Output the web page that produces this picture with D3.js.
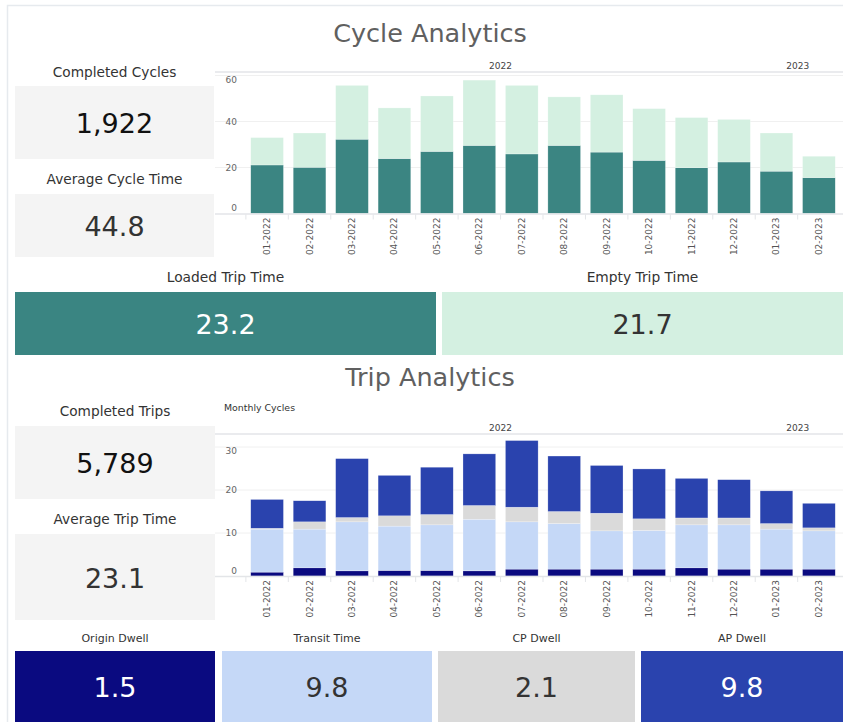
<!DOCTYPE html>
<html>
<head>
    <title>Cycle and Trip Analytics</title>
    <script src="https://d3js.org/d3.v7.min.js"></script>
    <style>
        body { margin: 0; background: #fff; }
        svg { display: block; font-family: "DejaVu Sans", Verdana, sans-serif; }
    </style>
</head>
<body>
    <div id="dash"></div>

    <script>
        // months shown on both charts
        const months = ["01-2022", "02-2022", "03-2022", "04-2022", "05-2022", "06-2022", "07-2022",
            "08-2022", "09-2022", "10-2022", "11-2022", "12-2022", "01-2023", "02-2023"];
        const years = [
            { year: "2022", first: "01-2022", last: "12-2022" },
            { year: "2023", first: "01-2023", last: "02-2023" }
        ];

        // cycle chart (stacked)
        const loadedTrip = [21.1, 20.1, 32.3, 23.9, 27.0, 29.6, 25.9, 29.6, 26.7, 23.1, 19.9, 22.4, 18.4, 15.6];
        const emptyTrip = [11.9, 14.9, 23.4, 22.0, 24.1, 28.4, 29.8, 21.1, 24.9, 22.5, 21.8, 18.5, 16.6, 9.3];
        const cycleTicks = [0, 20, 40, 60];

        // trip chart (stacked)
        const originDwell = [0.9, 1.9, 1.2, 1.3, 1.3, 1.2, 1.6, 1.6, 1.6, 1.6, 1.9, 1.6, 1.6, 1.6];
        const transitTime = [10.0, 9.0, 11.4, 10.3, 10.6, 12.0, 11.0, 10.6, 8.9, 9.0, 10.0, 10.3, 9.3, 8.9];
        const cpDwell = [0.2, 1.7, 1.0, 2.4, 2.4, 3.2, 3.4, 2.8, 4.1, 2.7, 1.6, 1.6, 1.3, 0.7];
        const apDwell = [6.7, 4.9, 13.7, 9.4, 11.0, 12.0, 15.5, 12.9, 11.1, 11.6, 9.2, 8.9, 7.6, 5.7];
        const tripTicks = [0, 10, 20, 30];

        // KPI cards
        const cycleKpis = [["Completed Cycles", "1,922"], ["Average Cycle Time", "44.8"]];
        const splitKpis = [["Loaded Trip Time", "23.2"], ["Empty Trip Time", "21.7"]];
        const tripKpis = [["Completed Trips", "5,789"], ["Average Trip Time", "23.1"]];
        const dwellKpis = [["Origin Dwell", "1.5"], ["Transit Time", "9.8"], ["CP Dwell", "2.1"], ["AP Dwell", "9.8"]];

        const W = 843, H = 722;
        const svg = d3.select("#dash").append("svg").attr("width", W).attr("height", H);

        // card outline
        svg.append("path").attr("d", "M7.5,722V5.5H843").attr("fill", "none")
            .attr("stroke", "#e6eaee").attr("stroke-width", 1.5);

        function title(text, y) {
            svg.append("text").attr("x", 430).attr("y", y).attr("text-anchor", "middle")
                .attr("dominant-baseline", "central").attr("font-size", 25.5).attr("fill", "#606060")
                .text(text);
        }

        function card(box, label, value, fill, color, labelSize) {
            svg.append("text").attr("x", box.x + box.w / 2).attr("y", box.ly)
                .attr("text-anchor", "middle").attr("dominant-baseline", "central")
                .attr("font-size", labelSize).attr("fill", "#333").text(label);
            svg.append("rect").attr("x", box.x).attr("y", box.y).attr("width", box.w).attr("height", box.h)
                .attr("fill", fill);
            svg.append("text").attr("x", box.x + box.w / 2).attr("y", box.vy)
                .attr("text-anchor", "middle").attr("dominant-baseline", "central")
                .attr("font-size", 27).attr("fill", color).text(value);
        }

        title("Cycle Analytics", 33);
        title("Trip Analytics", 377);

        card({ x: 15, w: 199, y: 86, h: 73, ly: 72, vy: 123 }, cycleKpis[0][0], cycleKpis[0][1], "#f4f4f4", "#111", 13.7);
        card({ x: 15, w: 199, y: 194, h: 63, ly: 179, vy: 226 }, cycleKpis[1][0], cycleKpis[1][1], "#f4f4f4", "#333", 13.7);
        card({ x: 15, w: 421, y: 292, h: 63, ly: 277, vy: 324 }, splitKpis[0][0], splitKpis[0][1], "#3a8582", "#fff", 13.8);
        card({ x: 442, w: 401, y: 292, h: 63, ly: 277, vy: 324 }, splitKpis[1][0], splitKpis[1][1], "#d4f0e1", "#333", 13.8);
        card({ x: 15, w: 200, y: 426, h: 73, ly: 411, vy: 463 }, tripKpis[0][0], tripKpis[0][1], "#f4f4f4", "#111", 13.7);
        card({ x: 15, w: 200, y: 534, h: 86, ly: 519, vy: 578 }, tripKpis[1][0], tripKpis[1][1], "#f4f4f4", "#333", 13.7);

        const dwellBoxes = [{ x: 15, w: 200 }, { x: 222, w: 210 }, { x: 438, w: 197 }, { x: 641, w: 202 }];
        const dwellFill = ["#0a0a80", "#c5d8f7", "#dadada", "#2a43ae"];
        const dwellText = ["#fff", "#333", "#333", "#fff"];
        dwellKpis.forEach((k, i) => {
            const b = dwellBoxes[i];
            card({ x: b.x, w: b.w, y: 651, h: 71, ly: 638, vy: 687 }, k[0], k[1], dwellFill[i], dwellText[i], 11);
        });

        // stacked bar chart with plotly-like multicategory axis
        function stackedChart(opt) {
            const g = svg.append("g");
            const x = d3.scaleBand().domain(months).range([241, 845]).padding(0.23);
            const y = d3.scaleLinear().domain([0, opt.max]).range([opt.y0, opt.y0 - opt.max * opt.k]);

            const rows = months.map((m, i) => {
                const r = { month: m };
                opt.keys.forEach((key, j) => { r[key] = opt.series[j][i]; });
                return r;
            });
            const stack = d3.stack().keys(opt.keys)(rows);

            // grid
            g.selectAll(".grid").data(opt.ticks.slice(1)).enter().append("line")
                .attr("x1", 215).attr("x2", W).attr("y1", d => y(d)).attr("y2", d => y(d))
                .attr("stroke", "#f0f0f0").attr("stroke-width", 1);

            // year line on top
            g.append("line").attr("x1", 215).attr("x2", W).attr("y1", opt.yearY).attr("y2", opt.yearY)
                .attr("stroke", "#e3e5e8").attr("stroke-width", 1.5);

            g.selectAll(".yr").data(years).enter().append("text")
                .attr("x", d => (x(d.first) + x(d.last) + x.bandwidth()) / 2)
                .attr("y", opt.yearY - 6).attr("text-anchor", "middle").attr("dominant-baseline", "central")
                .attr("font-size", 9).attr("fill", "#444").text(d => d.year);

            // bars
            g.selectAll(".layer").data(stack).enter().append("g")
                .attr("fill", (d, i) => opt.colors[i])
                .selectAll("rect").data(d => d).enter().append("rect")
                .attr("x", d => x(d.data.month)).attr("width", x.bandwidth())
                .attr("y", d => y(d[1])).attr("height", d => y(d[0]) - y(d[1]))
                .attr("stroke", "rgba(255,255,255,0.5)").attr("stroke-width", 0.5);

            // zero line
            g.append("line").attr("x1", 215).attr("x2", W).attr("y1", opt.y0 + 0.5).attr("y2", opt.y0 + 0.5)
                .attr("stroke", "#e3e5e8").attr("stroke-width", 1.5);

            // y tick labels, end labels nudged inside the plot
            const top = y(opt.max);
            g.selectAll(".yt").data(opt.ticks).enter().append("text")
                .attr("x", 237).attr("y", d => Math.min(Math.max(y(d), top + 4), opt.y0 - 5.5))
                .attr("text-anchor", "end")
                .attr("dominant-baseline", "central").attr("font-size", 9).attr("fill", "#666")
                .text(d => d);

            // category dividers
            const edges = months.map(m => x(m) - x.step() * x.paddingInner() / 2);
            g.selectAll(".tk").data(edges).enter().append("line")
                .attr("x1", d => d).attr("x2", d => d).attr("y1", opt.y0 + 1).attr("y2", opt.y0 + 6)
                .attr("stroke", "#e3e5e8");

            // month labels
            g.selectAll(".xl").data(months).enter().append("text")
                .attr("transform", d => `translate(${x(d) + x.bandwidth() / 2},${opt.y0 + 4}) rotate(-90)`)
                .attr("text-anchor", "end").attr("dominant-baseline", "central")
                .attr("font-size", 9).attr("fill", "#555").text(d => d);
        }

        stackedChart({
            keys: ["loaded", "empty"], series: [loadedTrip, emptyTrip],
            colors: ["#3b8582", "#d4f0e1"],
            max: 60, k: 2.3, y0: 213.5, yearY: 72, ticks: cycleTicks
        });

        svg.append("text").attr("x", 224).attr("y", 407).attr("dominant-baseline", "central")
            .attr("font-size", 9.4).attr("fill", "#333").text("Monthly Cycles");

        stackedChart({
            keys: ["origin", "transit", "cp", "ap"], series: [originDwell, transitTime, cpDwell, apDwell],
            colors: ["#0a0a80", "#c5d8f7", "#dadada", "#2a43ae"],
            max: 30, k: 4.3, y0: 576, yearY: 434, ticks: tripTicks
        });
    </script>
</body>
</html>
